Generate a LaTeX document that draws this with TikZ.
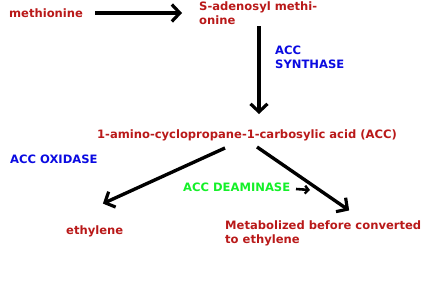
\documentclass[tikz,border=0pt]{standalone}
\usepackage{fontspec}
\setmainfont{DejaVu Sans}
\usetikzlibrary{arrows.meta}
\definecolor{tred}{RGB}{185,25,25}
\definecolor{tblue}{RGB}{10,10,225}
\definecolor{tgreen}{RGB}{20,240,40}
\tikzset{
  lbl/.style={inner sep=0pt, anchor=west, font=\fontsize{11.6}{14}\selectfont\bfseries, align=left},
  flow/.style={line width=3.4pt, -{Straight Barb[length=8pt, width=17pt, line width=3.2pt]}, shorten >=1pt},
}
\begin{document}
\begin{tikzpicture}[x=1bp,y=-1bp]
\useasboundingbox (0,0) rectangle (429,300);
\node[lbl, text=tred] (met) at (9,13) {methionine};
\node[lbl, text=tred] (sam) at (199,13) {S-adenosyl methi-\\onine};
\node[lbl, text=tblue] (accs) at (275,57) {ACC\\SYNTHASE};
\node[lbl, text=tred] (acc) at (97,135) {1-amino-cyclopropane-1-carbosylic acid (ACC)};
\node[lbl, text=tblue] (acco) at (10,159) {ACC OXIDASE};
\node[lbl, text=tgreen] (accd) at (183,187) {ACC DEAMINASE};
\node[lbl, text=tred] (eth) at (66,231) {ethylene};
\node[lbl, text=tred] (metab) at (225,233) {Metabolized before converted\\to ethylene};
\coordinate (a1s) at (95,13);
\coordinate (a1e) at (183,13);
\coordinate (a2s) at (259,26);
\coordinate (a2e) at (259,115);
\coordinate (a3s) at (225,148);
\coordinate (a3e) at (102,204);
\coordinate (a4s) at (257,147);
\coordinate (a4e) at (350,211);
\coordinate (a5s) at (296,189);
\coordinate (a5e) at (310,190);
\draw[flow] (a1s) -- (a1e);
\draw[flow] (a2s) -- (a2e);
\draw[flow] (a3s) -- (a3e);
\draw[flow] (a4s) -- (a4e);
\draw[line width=2.6pt, -{Straight Barb[length=3.5pt, width=8pt, line width=2.4pt]}] (a5s) -- (a5e);
\end{tikzpicture}
\end{document}
